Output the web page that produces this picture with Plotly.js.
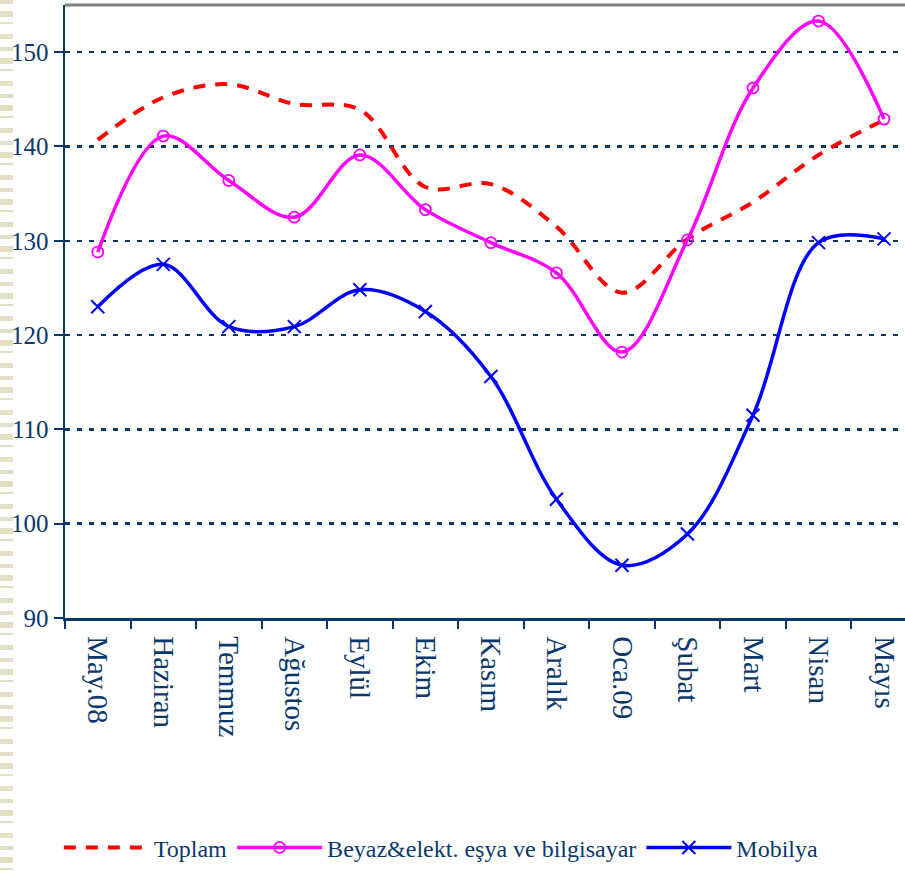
<!DOCTYPE html>
<html>
<head>
<meta charset="utf-8">
<script src="https://cdn.plot.ly/plotly-3.0.1.min.js"></script>
<style>
  html, body { margin: 0; padding: 0; background: #ffffff; }
  #chart { width: 905px; height: 871px; position: relative; }
  #deco {
    position: absolute; left: 0; top: 0; width: 13px; height: 871px; z-index: 5;
    background: repeating-linear-gradient(to bottom,
      #e2dfc4 0px, #e2dfc4 4px, #ffffff 4px, #ffffff 11px,
      #e2dfc4 11px, #e2dfc4 17px, #ffffff 17px, #ffffff 22px,
      #e2dfc4 22px, #e2dfc4 24px, #ffffff 24px, #ffffff 34px,
      #e2dfc4 34px, #e2dfc4 39px, #ffffff 39px, #ffffff 47px);
  }
</style>
</head>
<body>
<div id="chart"><div id="deco"></div></div>
<script>
const categories = ["May.08", "Haziran", "Temmuz", "Ağustos", "Eylül", "Ekim", "Kasım", "Aralık", "Oca.09", "Şubat", "Mart", "Nisan", "Mayıs"];
const toplam  = [140.7, 145.2, 146.6, 144.5, 143.9, 135.7, 136.0, 131.5, 124.5, 130.2, 134.1, 139.1, 142.8];
const beyaz   = [128.8, 141.1, 136.4, 132.5, 139.1, 133.3, 129.8, 126.6, 118.2, 130.1, 146.2, 153.3, 142.9];
const mobilya = [123.0, 127.5, 120.9, 120.9, 124.8, 122.5, 115.6, 102.6, 95.6, 98.9, 111.5, 129.8, 130.2];
const yTicks = [90, 100, 110, 120, 130, 140, 150];

const navy = '#0b386b';
const serif = 'Liberation Serif, Times New Roman, serif';

const traces = [
  { name: 'Toplam', x: categories, y: toplam, type: 'scatter', mode: 'lines',
    line: { color: '#ff0000', width: 4, dash: '12px,10px', shape: 'spline', smoothing: 1 } },
  { name: 'Beyaz&elekt. eşya ve bilgisayar', x: categories, y: beyaz, type: 'scatter', mode: 'lines+markers',
    line: { color: '#ff00ff', width: 3.5, shape: 'spline', smoothing: 1 },
    marker: { symbol: 'circle-open', size: 11, color: '#ff00ff', line: { width: 1.8, color: '#ff00ff' } } },
  { name: 'Mobilya', x: categories, y: mobilya, type: 'scatter', mode: 'lines+markers',
    line: { color: '#0000ff', width: 3.5, shape: 'spline', smoothing: 1 },
    marker: { symbol: 'x-thin-open', size: 13, color: '#0000ff', line: { width: 2, color: '#0000ff' } } }
];

const layout = {
  width: 905, height: 871,
  margin: { l: 65, r: 0, t: 5, b: 247 },
  paper_bgcolor: '#ffffff', plot_bgcolor: '#ffffff',
  font: { family: serif, color: navy },
  showlegend: true,
  legend: { orientation: 'h', x: 0.448, xanchor: 'center', y: -0.375, yanchor: 'middle',
            font: { family: serif, size: 24, color: navy }, itemwidth: 85, bgcolor: 'rgba(0,0,0,0)' },
  xaxis: {
    type: 'category', range: [-0.5, 12.32],
    showline: true, linecolor: navy, linewidth: 2.5,
    ticks: 'outside', tickson: 'boundaries', ticklen: 8, tickwidth: 2, tickcolor: navy,
    tickangle: 90, tickfont: { family: serif, size: 29, color: navy }, ticklabelstandoff: 10,
    showgrid: false, zeroline: false
  },
  yaxis: {
    range: [90, 155], tickvals: yTicks, ticktext: yTicks.map(String),
    showline: true, linecolor: navy, linewidth: 2.5,
    ticks: 'outside', ticklen: 9, tickwidth: 2, tickcolor: navy,
    tickfont: { family: serif, size: 25, color: navy },
    showgrid: true, gridcolor: navy, gridwidth: 2.5, griddash: '5px,7px',
    zeroline: false
  },
  shapes: [
    { type: 'line', xref: 'paper', yref: 'paper', x0: 0, x1: 1, y0: 1, y1: 1,
      line: { color: '#808080', width: 3 } }
  ]
};

Plotly.newPlot('chart', traces, layout, { displayModeBar: false, staticPlot: true });
</script>
</body>
</html>
